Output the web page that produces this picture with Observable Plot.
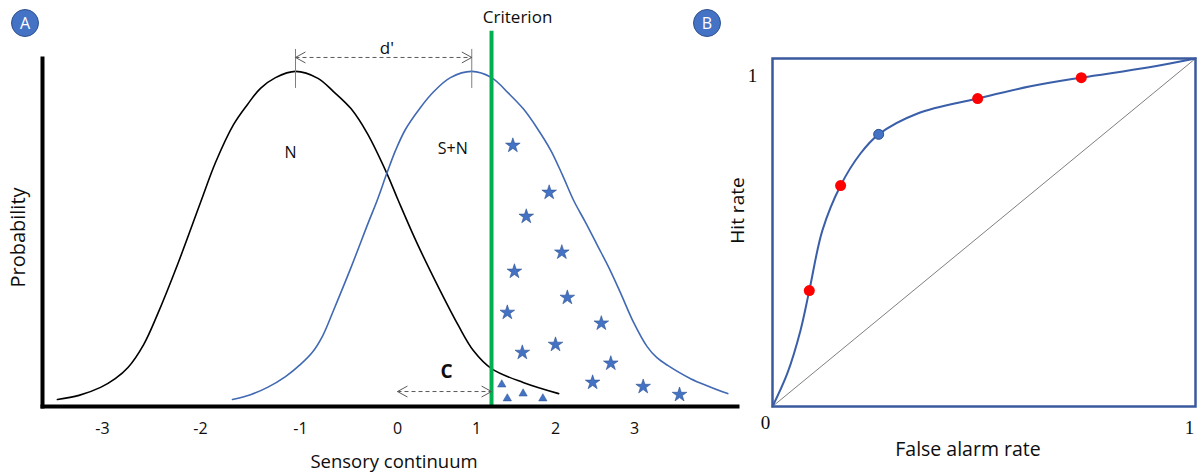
<!DOCTYPE html>
<html>
<head>
<meta charset="utf-8">
<script src="https://cdn.jsdelivr.net/npm/d3@7"></script>
<script src="https://cdn.jsdelivr.net/npm/@observablehq/plot@0.6"></script>
<style>
  body { margin: 0; background: #fff; }
  #wrap { position: relative; width: 1201px; height: 474px; overflow: hidden; font-family: "Open Sans", sans-serif; }
  #wrap svg { overflow: visible; background: transparent; }
  .panel { position: absolute; top: 0; }
  .badge { position: absolute; width: 26px; height: 26px; border-radius: 50%; background: #4472C4; border: 1px solid #2F528F;
           color: #fff; font: 16px "Open Sans", sans-serif; display: flex; align-items: center; justify-content: center; }
</style>
</head>
<body>
<div id="wrap"></div>
<script>
// ---------- Panel A data ----------
const xTicks = [-3, -2, -1, 0, 1, 2, 3];
const xTickLabels = ["-3", "-2", "-1", "0", "1", "2", "3"];

const noiseX = [-3.46, -3.24, -3.02, -2.87, -2.74, -2.58, -2.44, -2.23, -2.00, -1.85, -1.67, -1.53, -1.40, -1.25, -1.05, -0.82, -0.66, -0.48, -0.31, -0.11, 0.01, 0.25, 0.54, 0.77, 0.96, 1.19, 1.59, 2.04];
const noiseY = [0.020, 0.032, 0.055, 0.080, 0.112, 0.178, 0.264, 0.411, 0.586, 0.701, 0.810, 0.868, 0.914, 0.945, 0.963, 0.943, 0.905, 0.856, 0.784, 0.670, 0.592, 0.468, 0.333, 0.233, 0.161, 0.109, 0.069, 0.037];

const signalX = [-1.68, -1.50, -1.33, -1.15, -1.00, -0.88, -0.77, -0.66, -0.48, -0.30, -0.21, -0.11, -0.02, 0.10, 0.27, 0.46, 0.67, 0.94, 1.19, 1.41, 1.59, 1.77, 1.94, 2.09, 2.23, 2.38, 2.53, 2.68, 2.82, 2.99, 3.16, 3.28, 3.42, 3.71, 4.18];
const signalY = [0.020, 0.034, 0.055, 0.086, 0.121, 0.155, 0.204, 0.276, 0.399, 0.529, 0.592, 0.670, 0.736, 0.796, 0.853, 0.905, 0.945, 0.963, 0.945, 0.899, 0.856, 0.799, 0.736, 0.664, 0.592, 0.529, 0.463, 0.397, 0.328, 0.241, 0.172, 0.141, 0.118, 0.080, 0.037];

const noiseMean = -1.05;
const signalMean = 0.94;
const criterion = 1.19;
const cOrigin = 0;

const starX = [1.46, 1.92, 1.63, 2.08, 1.48, 2.15, 1.39, 2.58, 2.00, 1.58, 2.70, 2.47, 3.11, 3.57];
const starY = [0.750, 0.615, 0.546, 0.443, 0.388, 0.313, 0.270, 0.239, 0.178, 0.155, 0.124, 0.069, 0.057, 0.034];

const triX = [1.32, 1.39, 1.59, 1.84];
const triY = [0.063, 0.023, 0.037, 0.023];

// ---------- Panel B data ----------
const rocFA  = [0, 0.035, 0.066, 0.087, 0.118, 0.161, 0.208, 0.251, 0.343, 0.485, 0.610, 0.730, 0.887, 1];
const rocHit = [0, 0.095, 0.218, 0.333, 0.506, 0.635, 0.727, 0.782, 0.842, 0.885, 0.920, 0.945, 0.974, 1];
const redFA  = [0.087, 0.161, 0.485, 0.730];
const redHit = [0.333, 0.635, 0.885, 0.945];
const blueFA  = [0.251];
const blueHit = [0.782];
const chanceFA  = [0, 1];
const chanceHit = [0, 1];

// ---------- helpers ----------
const zipXY = (xs, ys) => xs.map((x, i) => ({x, y: ys[i]}));
const noise = zipXY(noiseX, noiseY);
const signal = zipXY(signalX, signalY);
const stars = zipXY(starX, starY);
const tris = zipXY(triX, triY);
const roc = zipXY(rocFA, rocHit);
const reds = zipXY(redFA, redHit);
const blues = zipXY(blueFA, blueHit);
const chance = zipXY(chanceFA, chanceHit);

const chevron = {
  draw(ctx, size) {
    const s = Math.sqrt(size);
    ctx.moveTo(-s, -0.55 * s);
    ctx.lineTo(0, 0);
    ctx.lineTo(-s, 0.55 * s);
  }
};

const font = "'Open Sans', sans-serif";
const dY = 1.003;     // level of the d' arrow
const cY = 0.043;     // level of the C arrow

const plotA = Plot.plot({
  width: 760, height: 474,
  marginLeft: 42, marginRight: 23, marginTop: 58, marginBottom: 68,
  style: {fontFamily: font, background: "transparent", overflow: "visible", color: "#0d0d0d"},
  x: {type: "linear", domain: xTicks, range: [102, 200, 300, 397, 476, 555, 634]},
  y: {domain: [0, 1], axis: null},
  marks: [
    Plot.axisX({ticks: xTicks, tickFormat: d => xTickLabels[xTicks.indexOf(d)], tickSize: 0, tickPadding: 16, fontSize: 16, label: null}),
    Plot.line(noise, {x: "x", y: "y", curve: "catmull-rom", stroke: "#000", strokeWidth: 1.6}),
    Plot.line(signal, {x: "x", y: "y", curve: "catmull-rom", stroke: "#4169B3", strokeWidth: 1.6}),
    // d' annotation
    Plot.ruleX([noiseMean, signalMean], {y1: 0.914, y2: 1.026, stroke: "#7F7F7F", strokeWidth: 1}),
    Plot.link([0], {x1: noiseMean, x2: signalMean, y1: dY, y2: dY, stroke: "#595959", strokeWidth: 1, strokeDasharray: "4,3"}),
    Plot.dot([{x: noiseMean, r: 180}, {x: signalMean, r: 0}], {x: "x", y: () => dY, rotate: "r", symbol: chevron, r: 5.6, fill: "none", stroke: "#595959", strokeWidth: 1}),
    Plot.text(["d'"], {x: -0.11, y: 1.029, fontSize: 17, fill: "#0d0d0d"}),
    // criterion
    Plot.ruleX([criterion], {y1: 0, y2: 1.078, stroke: "#00B050", strokeWidth: 4}),
    Plot.text(["Criterion"], {x: 1.52, y: 1.118, fontSize: 17, fill: "#0d0d0d"}),
    // C annotation
    Plot.link([0], {x1: cOrigin, x2: criterion, y1: cY, y2: cY, stroke: "#595959", strokeWidth: 1, strokeDasharray: "4,3"}),
    Plot.dot([{x: cOrigin, r: 180}, {x: criterion, r: 0}], {x: "x", y: () => cY, rotate: "r", symbol: chevron, r: 5.6, fill: "none", stroke: "#595959", strokeWidth: 1}),
    Plot.text(["C"], {x: 0.62, y: 0.098, fontSize: 19, fontWeight: "bold", fill: "#0d0d0d"}),
    // distribution labels
    Plot.text(["N"], {x: -1.10, y: 0.730, fontSize: 16, fill: "#0d0d0d"}),
    Plot.text(["S+N"], {x: 0.70, y: 0.741, fontSize: 16, fill: "#0d0d0d"}),
    // hits / false alarms
    Plot.dot(stars, {x: "x", y: "y", symbol: "star", r: 4.6, fill: "#4472C4", stroke: "#2F528F", strokeWidth: 0.6}),
    Plot.dot(tris, {x: "x", y: "y", symbol: "triangle", r: 3.1, fill: "#4472C4", stroke: "#2F528F", strokeWidth: 0.5}),
    // axes lines
    Plot.frame({anchor: "left", stroke: "#000", strokeWidth: 4}),
    Plot.frame({anchor: "bottom", stroke: "#000", strokeWidth: 4}),
    // axis titles
    Plot.text(["Sensory continuum"], {frameAnchor: "bottom", textAnchor: "middle", lineAnchor: "middle", dx: 4, dy: 56, fontSize: 18.5, fill: "#0d0d0d"}),
    Plot.text(["Probability"], {frameAnchor: "left", textAnchor: "middle", lineAnchor: "middle", rotate: -90, dx: -24, dy: 5, fontSize: 20, fill: "#0d0d0d"})
  ]
});

const plotB = Plot.plot({
  width: 480, height: 474,
  marginLeft: 51, marginRight: 6, marginTop: 58, marginBottom: 68,
  style: {fontFamily: font, background: "transparent", overflow: "visible", color: "#0d0d0d"},
  x: {domain: [0, 1], axis: null},
  y: {domain: [0, 1], axis: null},
  marks: [
    Plot.line(chance, {x: "x", y: "y", stroke: "#7F7F7F", strokeWidth: 1}),
    Plot.line(roc, {x: "x", y: "y", curve: "catmull-rom", stroke: "#3A5FA8", strokeWidth: 2}),
    Plot.frame({stroke: "#3A5A9E", strokeWidth: 2.5}),
    Plot.dot(reds, {x: "x", y: "y", r: 5.5, fill: "#FF0000"}),
    Plot.dot(blues, {x: "x", y: "y", r: 5, fill: "#4472C4", stroke: "#2F528F", strokeWidth: 1}),
    Plot.text(["0"], {x: 0, y: 0, dx: -7, dy: 16, fontFamily: "Liberation Serif", fontSize: 19, fill: "#0d0d0d"}),
    Plot.text(["1"], {x: 1, y: 0, dx: -6, dy: 21, fontFamily: "Liberation Serif", fontSize: 19, fill: "#0d0d0d"}),
    Plot.text(["1"], {x: 0, y: 1, dx: -20, dy: 17, fontFamily: "Liberation Serif", fontSize: 19, fill: "#0d0d0d"}),
    Plot.text(["False alarm rate"], {frameAnchor: "bottom", textAnchor: "middle", lineAnchor: "middle", dx: -16, dy: 43, fontSize: 19.5, fill: "#0d0d0d"}),
    Plot.text(["Hit rate"], {frameAnchor: "left", textAnchor: "middle", lineAnchor: "middle", rotate: -90, dx: -35, dy: -22, fontSize: 19, fill: "#0d0d0d"})
  ]
});

const wrap = document.getElementById("wrap");
plotA.classList.add("panel"); plotA.style.left = "0px";
plotB.classList.add("panel"); plotB.style.left = "721px";
wrap.appendChild(plotA);
wrap.appendChild(plotB);

for (const [t, cx] of [["A", 25], ["B", 707]]) {
  const b = document.createElement("div");
  b.className = "badge";
  b.textContent = t;
  b.style.left = (cx - 14) + "px";
  b.style.top = (23 - 14) + "px";
  wrap.appendChild(b);
}
</script>
</body>
</html>
